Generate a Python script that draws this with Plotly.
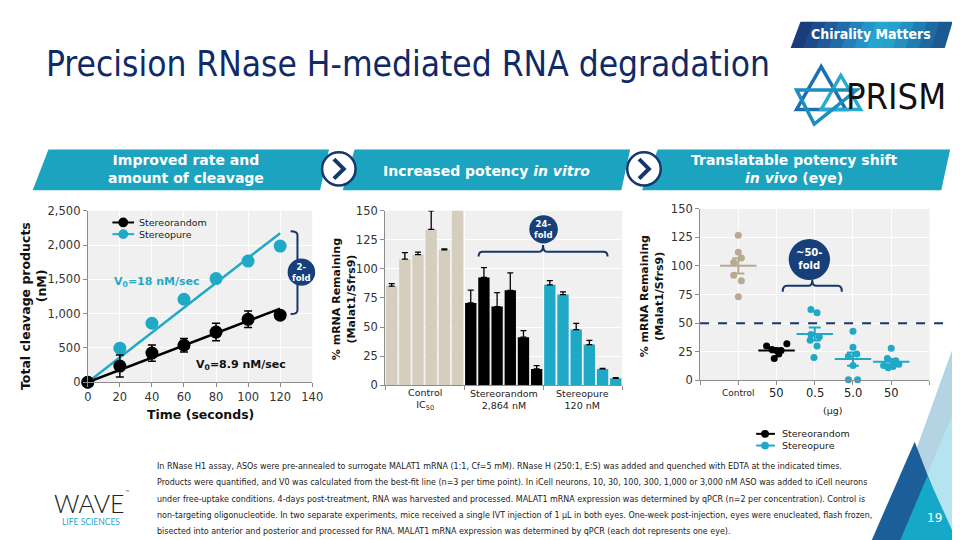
import numpy as np
import plotly.graph_objects as go

# ---------------- DATA ----------------
# Panel 1: RNase H cleavage kinetics
time_s = [0, 20, 40, 60, 80, 100, 120]
random_nM = [0, 236, 425, 539, 732, 917, 978]
random_err = [0, 160, 118, 97, 127, 120, 20]
pure_nM = [0, 496, 860, 1210, 1512, 1767, 1985]
pure_err = [0, 30, 30, 30, 30, 60, 30]
fit_time = [0, 120]
fit_random = [0, 1073]
fit_pure = [0, 2174]
v0_random_label = "V<sub>0</sub>=8.9 nM/sec"
v0_pure_label = "V<sub>0</sub>=18 nM/sec"

# Panel 2: in vitro dose response (6 doses per group)
control_vals = [85.2, 108.4, 112.3, 134.0, 116.5, 155.0]
control_err = [2.2, 5.6, 2.2, 16.0, 0.8, 0.0]
random_vals = [70.7, 92.7, 67.6, 81.6, 41.3, 14.0]
random_vals_err = [11.0, 8.4, 12.0, 15.0, 5.6, 2.8]
pure_vals = [86.3, 77.9, 47.8, 34.9, 14.0, 5.9]
pure_vals_err = [3.6, 2.3, 5.3, 3.6, 0.4, 0.5]
group_labels = ["Control<br>IC<sub>50</sub>", "Stereorandom<br>2,864 nM", "Stereopure<br>120 nM"]

# Panel 3: in vivo (eye), each dot one eye
eye_control = [127, 112, 107, 103, 92, 87, 73]
eye_random_50 = [30, 32, 27, 26, 26, 23, 19]
eye_pure_05 = [62, 59, 40, 38, 35, 30, 20]
eye_pure_5 = [43, 29, 23, 21, 13, 0.5, 0.5]
eye_pure_50 = [28, 19, 17, 14, 13, 12, 11]
eye_tick_labels = ["Control", "50", "0.5", "5.0", "50"]

# ---------------- STYLE / LAYOUT HELPERS ----------------
W, H = 960, 540
def X(px): return px / W
def Y(py): return 1 - py / H

NAVY = "#16366e"
TEAL = "#1fa9c7"
BAND = "#1ca3c0"
TAN_BAR = "#d5cebf"
TAN_DOT = "#b8aa8f"
BG = "#f0f0f0"
FONT = "DejaVu Sans"
NARROW = "Liberation Sans Narrow, DejaVu Sans Condensed, Arial Narrow, sans-serif"

shapes = []
annotations = []

def poly(pts, fill, line_color=None, lw=0, layer="above"):
    d = "M " + " L ".join(f"{X(a):.5f},{Y(b):.5f}" for a, b in pts) + " Z"
    shapes.append(dict(type="path", path=d, xref="paper", yref="paper",
                       fillcolor=fill, line=dict(color=line_color or fill, width=lw), layer=layer))

def outline(pts, color, lw):
    d = "M " + " L ".join(f"{X(a):.5f},{Y(b):.5f}" for a, b in pts) + " Z"
    shapes.append(dict(type="path", path=d, xref="paper", yref="paper",
                       line=dict(color=color, width=lw), layer="above"))

def circle(cx, cy, r, fill, line_color=None, lw=0):
    shapes.append(dict(type="circle", xref="paper", yref="paper",
                       x0=X(cx - r), x1=X(cx + r), y0=Y(cy + r), y1=Y(cy - r),
                       fillcolor=fill, line=dict(color=line_color or fill, width=lw), layer="above"))

def pline(pts, color, lw, dash=None):
    d = "M " + " L ".join(f"{X(a):.5f},{Y(b):.5f}" for a, b in pts)
    shapes.append(dict(type="path", path=d, xref="paper", yref="paper",
                       line=dict(color=color, width=lw, dash=dash), layer="above"))

def text(px, py, s, size, color="#222", bold=False, anchor="center", family=FONT, angle=0, weight=None):
    f = dict(family=family, size=size, color=color)
    if bold:
        f["weight"] = "bold"
    if weight:
        f["weight"] = weight
    annotations.append(dict(x=X(px), y=Y(py), xref="paper", yref="paper", text=s, showarrow=False,
                            xanchor=anchor, yanchor="middle", font=f, textangle=angle, align="center"))

def P(a, b):
    return f"{X(a):.5f},{Y(b):.5f}"

def hbrace(x1, x2, yb, ym, yc, color=NAVY, lw=2):
    xm = (x1 + x2) / 2
    r = 4
    d = (f"M {P(x1,yb)} Q {P(x1,ym)} {P(x1+r,ym)} L {P(xm-r,ym)} Q {P(xm,ym)} {P(xm,yc)} "
         f"Q {P(xm,ym)} {P(xm+r,ym)} L {P(x2-r,ym)} Q {P(x2,ym)} {P(x2,yb)}")
    shapes.append(dict(type="path", path=d, xref="paper", yref="paper", line=dict(color=color, width=lw), layer="above"))

def vbrace(y1, y2, xb, xm, xc, color=NAVY, lw=2):
    ym = (y1 + y2) / 2
    r = 4
    d = (f"M {P(xb,y1)} Q {P(xm,y1)} {P(xm,y1+r)} L {P(xm,ym-r)} Q {P(xm,ym)} {P(xc,ym)} "
         f"Q {P(xm,ym)} {P(xm,ym+r)} L {P(xm,y2-r)} Q {P(xm,y2)} {P(xb,y2)}")
    shapes.append(dict(type="path", path=d, xref="paper", yref="paper", line=dict(color=color, width=lw), layer="above"))

# ---------------- FIGURE ----------------
fig = go.Figure()

# Panel 1
fig.add_trace(go.Scatter(x=fit_time, y=fit_pure, mode="lines", line=dict(color=TEAL, width=2.5),
                         showlegend=False, xaxis="x", yaxis="y", hoverinfo="skip"))
fig.add_trace(go.Scatter(x=fit_time, y=fit_random, mode="lines", line=dict(color="black", width=2.5),
                         showlegend=False, xaxis="x", yaxis="y", hoverinfo="skip"))
fig.add_trace(go.Scatter(x=time_s, y=pure_nM, mode="markers", marker=dict(color=TEAL, size=13),
                         error_y=dict(type="data", array=pure_err, color="#333", thickness=1.5, width=4),
                         cliponaxis=False, showlegend=False, xaxis="x", yaxis="y"))
fig.add_trace(go.Scatter(x=time_s, y=random_nM, mode="markers", marker=dict(color="black", size=13),
                         error_y=dict(type="data", array=random_err, color="black", thickness=1.5, width=4),
                         cliponaxis=False, showlegend=False, xaxis="x", yaxis="y"))

# Panel 2
for i, (vals, errs, col) in enumerate([(control_vals, control_err, TAN_BAR),
                                        (random_vals, random_vals_err, "black"),
                                        (pure_vals, pure_vals_err, TEAL)]):
    xs = [i * 6 + k for k in range(6)]
    fig.add_trace(go.Bar(x=xs, y=vals, marker=dict(color=col, line=dict(width=0)),
                         error_y=dict(type="data", array=errs, arrayminus=[0] * 6, symmetric=False,
                                      color="black", thickness=1.3, width=3),
                         showlegend=False, xaxis="x2", yaxis="y2"))

# Panel 3
offsets = {
    0: [0.0, 0.0, 0.08, -0.12, -0.12, 0.08, 0.0],
    1: [-0.26, 0.27, -0.12, 0.0, 0.12, 0.06, -0.06],
    2: [-0.1, 0.06, -0.1, 0.12, -0.12, 0.06, -0.02],
    3: [0.0, 0.0, 0.1, -0.12, 0.0, -0.12, 0.12],
    4: [0.0, -0.1, 0.12, 0.2, -0.2, 0.05, -0.08],
}
groups = [(eye_control, TAN_DOT), (eye_random_50, "black"), (eye_pure_05, TEAL),
          (eye_pure_5, TEAL), (eye_pure_50, TEAL)]
for gi, (vals, col) in enumerate(groups):
    xs = [gi + o for o in offsets[gi]]
    fig.add_trace(go.Scatter(x=xs, y=vals, mode="markers", marker=dict(color=col, size=7),
                             cliponaxis=False, showlegend=False, xaxis="x3", yaxis="y3"))
for gi, (vals, col) in enumerate(groups):
    arr = np.array(vals, dtype=float)
    mean = arr.mean()
    sem = arr.std(ddof=1) / np.sqrt(len(arr))
    fig.add_trace(go.Scatter(x=[gi], y=[mean], mode="markers",
                             marker=dict(symbol="line-ew", size=26, color=col, line=dict(width=2, color=col)),
                             error_y=dict(type="data", array=[sem], color=col, thickness=2, width=6),
                             showlegend=False, xaxis="x3", yaxis="y3", cliponaxis=False))

# ---------------- AXES ----------------
axc = dict(showline=True, linecolor="#8c8c8c", linewidth=1, ticks="outside", ticklen=4,
           tickcolor="#8c8c8c", gridcolor="white", gridwidth=1, zeroline=False,
           tickfont=dict(family=FONT, size=11.5, color="#333"))

layout = dict(
    width=W, height=H, margin=dict(l=0, r=0, t=0, b=0), autosize=False,
    paper_bgcolor="white", plot_bgcolor=BG, showlegend=False, bargap=0.14,
    xaxis=dict(domain=[X(77), X(305)], range=[0, 140], dtick=20, anchor="y", **axc),
    yaxis=dict(domain=[Y(377), Y(201)], range=[0, 2500], dtick=500, tickformat=",", anchor="x", **axc),
    xaxis2=dict(domain=[X(379), X(620)], range=[-0.5, 17.5], tickvals=[-0.5, 5.5, 11.5, 17.5],
                showticklabels=False, anchor="y2", **axc),
    yaxis2=dict(domain=[Y(380), Y(201)], range=[0, 150], dtick=25, anchor="x2", **axc),
    xaxis3=dict(domain=[X(699), X(932)], range=[-1, 5], tickvals=[-1, 0, 1, 2, 3, 4, 5],
                showticklabels=False, anchor="y3", **axc),
    yaxis3=dict(domain=[Y(375), Y(199)], range=[0, 150], dtick=25, anchor="x3", **axc),
)

# ---------------- DECORATION ----------------
# Title
text(33, 50, "Precision RNase H-mediated RNA degradation", 35, color="#0f2a66", anchor="left", family=NARROW)

# Chirality Matters tab (gradient approximated)
tab_top = (801, 955); tab_bot = (791, 947); ty0, ty1 = 7, 34
cols = ["#1b3c7a", "#1d4b89", "#1f5b98", "#216ba8", "#2380b8", "#2595c6", "#26a6cf", "#24a2cc",
        "#2290c0", "#1f7cb0", "#1d6aa0", "#1b5990"]
n = len(cols)
for k, c in enumerate(cols):
    a0 = tab_top[0] + (tab_top[1] - tab_top[0]) * k / n
    a1 = tab_top[0] + (tab_top[1] - tab_top[0]) * (k + 1) / n + 0.6
    b0 = tab_bot[0] + (tab_bot[1] - tab_bot[0]) * k / n
    b1 = tab_bot[0] + (tab_bot[1] - tab_bot[0]) * (k + 1) / n + 0.6
    poly([(a0, ty0), (a1, ty0), (b1, ty1), (b0, ty1)], c)
text(873, 20, "Chirality Matters", 14, color="white", bold=True, family=NARROW)

# PRISM logo
outline([(822, 53), (797, 97), (847, 97)], "#1e6fb0", 3.5)
outline([(842, 62), (822, 97), (862, 97)], "#2aa9cf", 3.5)
outline([(797, 77), (858, 77), (815, 112)], "#1a8fc0", 3.5)
text(898, 84, "PRISM", 36, color="#111", family=NARROW)

# Header bands
poly([(37, 138), (322, 138), (313, 180), (21, 180)], BAND)
poly([(348, 138), (628, 138), (619, 180), (336, 180)], BAND)
poly([(656, 138), (953, 138), (944, 180), (640, 180)], BAND)
for cx in (332, 642):
    circle(cx, 158, 17, "white", NAVY, 2.5)
    pline([(cx - 5, 148), (cx + 5, 158), (cx - 5, 168)], NAVY, 4)
text(177, 158, "Improved rate and<br>amount of cleavage", 14, color="white", bold=True)
text(482, 160, "Increased potency <i>in vitro</i>", 14, color="white", bold=True)
text(795, 158, "Translatable potency shift<br><i>in vivo</i> (eye)", 14, color="white", bold=True)

# Panel 1 texts
text(13, 299, "Total cleavage products", 12.5, color="#111", bold=True, angle=-90)
text(30, 278, "(nM)", 12.5, color="#111", bold=True, angle=-90)
text(191, 410, "Time (seconds)", 12.5, color="#111", bold=True)
text(102, 274, v0_pure_label, 11, color=TEAL, bold=True, anchor="left")
text(185, 359, v0_random_label, 11, color="#111", bold=True, anchor="left")
# legend panel 1
for yy, col, name in [(213, "black", "Stereorandom"), (225, TEAL, "Stereopure")]:
    pline([(102, yy), (124, yy)], col, 2)
    circle(113, yy, 5, col)
    text(127, yy, name, 9.5, color="#222", anchor="left")
vbrace(222, 307, 283, 290, 295)
circle(294, 264, 14, "#173f7a")
text(294, 264, "2-<br>fold", 8.5, color="white", bold=True)

# Panel 2 texts
text(337, 292, "% mRNA Remaining<br>(Malat1/Sfrs9)", 11, color="#111", bold=True, angle=-90)
for gi, lab in enumerate(group_labels):
    annotations.append(dict(x=gi * 6 + 2.5, y=Y(395), xref="x2", yref="paper", text=lab, showarrow=False,
                            xanchor="center", yanchor="middle", font=dict(family=FONT, size=9.5, color="#222")))
hbrace(474, 605, 248, 243, 236)
circle(540, 220, 14.5, "#173f7a")
text(540, 220, "24-<br>fold", 8.5, color="white", bold=True)

# Panel 3 texts
text(650, 289, "% mRNA Remaining<br>(Malat1/Sfrs9)", 11, color="#111", bold=True, angle=-90)
for gi, lab in enumerate(eye_tick_labels):
    annotations.append(dict(x=gi, y=Y(388), xref="x3", yref="paper", text=lab, showarrow=False,
                            xanchor="center", yanchor="middle",
                            font=dict(family=FONT, size=9 if gi == 0 else 11.5, color="#222")))
text(834, 406, "(µg)", 9.5, color="#222")
shapes.append(dict(type="line", xref="paper", yref="y3", x0=X(699), x1=1.0, y0=50, y1=50,
                   line=dict(color=NAVY, width=2, dash="dash"), layer="above"))
hbrace(783, 843, 284, 278, 272)
circle(810, 251, 21, "#173f7a")
text(810, 251, "~50-<br>fold", 10, color="white", bold=True)
for yy, col, name in [(430, "black", "Stereorandom"), (442, TEAL, "Stereopure")]:
    pline([(756, yy), (775, yy)], col, 2)
    circle(765, yy, 4, col)
    text(780, yy, name, 9.5, color="#222", anchor="left")

# Bottom-right decoration
poly([(960, 330), (885, 540), (960, 540)], "#b4d4e4", layer="below")
poly([(960, 400), (901, 540), (960, 540)], "#b3e4ef", layer="below")
poly([(917, 438), (873, 540), (956, 540)], "#1c5e99")
poly([(930, 473), (902, 540), (960, 540)], "#15a8c8")
text(937, 516, "19", 12, color="white")

# WAVE logo
text(79, 501, "WAVE", 25, color="#222", family="Lato", weight=300)
text(117, 490, "™", 5, color="#222")
text(80, 521, "LIFE SCIENCES", 8.5, color="#2aa7c9", family="Lato")

# Footnote
foot = [
    "In RNase H1 assay, ASOs were pre-annealed to surrogate MALAT1 mRNA (1:1, Cf=5 mM). RNase H (250:1, E:S) was added and quenched with EDTA at the indicated times.",
    "Products were quantified, and V0 was calculated from the best-fit line (n=3 per time point). In iCell neurons, 10, 30, 100, 300, 1,000 or 3,000 nM ASO was added to iCell neurons",
    "under free-uptake conditions. 4-days post-treatment, RNA was harvested and processed. MALAT1 mRNA expression was determined by qPCR (n=2 per concentration). Control is",
    "non-targeting oligonucleotide. In two separate experiments, mice received a single IVT injection of 1 µL in both eyes. One-week post-injection, eyes were enucleated, flash frozen,",
    "bisected into anterior and posterior and processed for RNA. MALAT1 mRNA expression was determined by qPCR (each dot represents one eye).",
]
for k, line in enumerate(foot):
    text(145, 463 + 16.8 * k, line, 8.9, color="#222", anchor="left", family=NARROW)

layout["shapes"] = shapes
layout["annotations"] = annotations
fig.update_layout(**layout)
fig.write_html("out.html")
